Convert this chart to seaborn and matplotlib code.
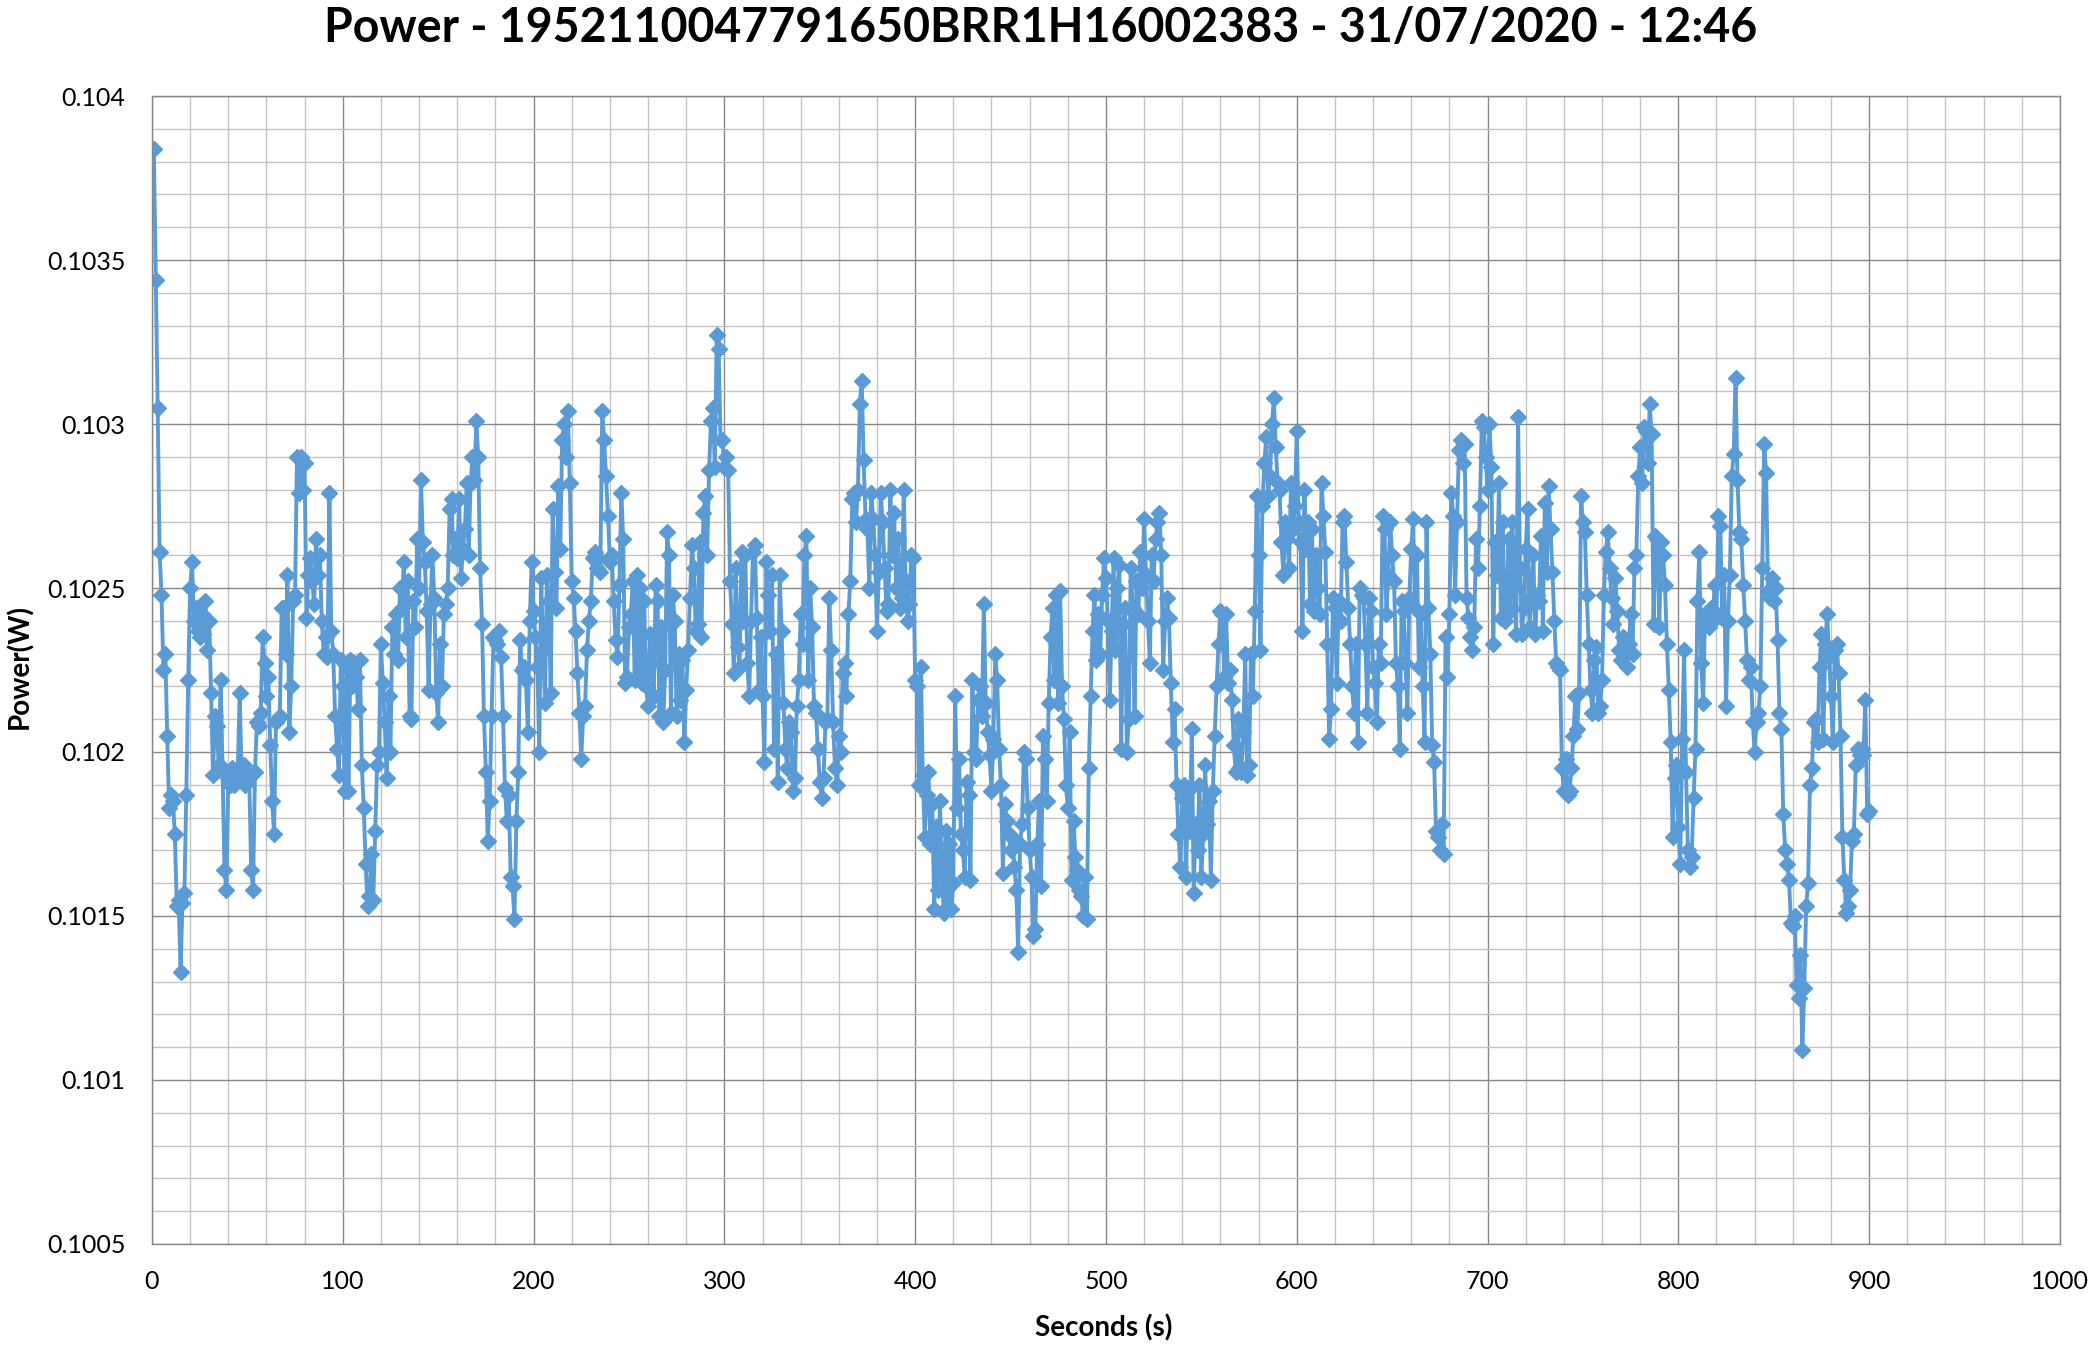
import numpy as np
import pandas as pd
import matplotlib
matplotlib.use('Agg')
import matplotlib.pyplot as plt
import seaborn as sns
from matplotlib.ticker import MultipleLocator, FuncFormatter

# chart text
title = "Power - 1952110047791650BRR1H16002383 - 31/07/2020 - 12:46"
x_label = "Seconds (s)"
y_label = "Power(W)"

# readings in micro-watts, one per second
power_uw = [
    103840, 103440, 103050, 102610, 102480, 102250, 102300, 102050, 101830, 101870,
    101850, 101750, 101530, 101550, 101330, 101540, 101570, 101870, 102220, 102500,
    102580, 102400, 102440, 102370, 102350, 102420, 102360, 102460, 102310, 102400,
    102180, 101930, 102110, 102080, 101960, 102220, 101950, 101640, 101580, 101920,
    101900, 101950, 101900, 101930, 101950, 102180, 101920, 101960, 101900, 101940,
    101920, 101640, 101580, 101940, 102090, 102080, 102120, 102350, 102270, 102170,
    102230, 102020, 101850, 101750, 102090, 102100, 102110, 102440, 102440, 102300,
    102540, 102060, 102200, 102460, 102480, 102900, 102790, 102900, 102800, 102880,
    102410, 102540, 102590, 102520, 102450, 102650, 102540, 102600, 102400, 102300,
    102350, 102290, 102790, 102370, 102300, 102110, 102010, 101930, 102280, 102200,
    101880, 102260, 101880, 102280, 102200, 102270, 102230, 102130, 102280, 101960,
    101830, 101660, 101530, 101560, 101690, 101550, 101760, 101960, 102000, 102330,
    102210, 102090, 101920, 102170, 102000, 102380, 102300, 102420, 102280, 102500,
    102440, 102580, 102350, 102520, 102110, 102100, 102460, 102380, 102650, 102500,
    102830, 102640, 102580, 102430, 102190, 102450, 102600, 102470, 102180, 102090,
    102330, 102200, 102420, 102450, 102500, 102740, 102770, 102600, 102650, 102590,
    102770, 102530, 102620, 102680, 102820, 102600, 102820, 102900, 102830, 103010,
    102900, 102560, 102390, 102110, 101940, 101730, 101850, 102110, 102350, 102340,
    102330, 102370, 102290, 102110, 101890, 101790, 101870, 101620, 101590, 101490,
    101790, 101940, 102340, 102250, 102260, 102220, 102060, 102400, 102580, 102430,
    102350, 102260, 102000, 102530, 102310, 102150, 102540, 102460, 102180, 102740,
    102550, 102440, 102810, 102620, 102950, 103000, 102900, 103040, 102820, 102520,
    102470, 102370, 102240, 102120, 101980, 102110, 102140, 102310, 102400, 102460,
    102590, 102610, 102560, 102590, 102550, 103040, 102950, 102840, 102720, 102580,
    102600, 102460, 102340, 102290, 102510, 102790, 102650, 102210, 102230, 102380,
    102420, 102520, 102220, 102540, 102230, 102500, 102210, 102460, 102200, 102140,
    102360, 102270, 102170, 102510, 102460, 102110, 102380, 102090, 102250, 102670,
    102600, 102120, 102480, 102400, 102110, 102300, 102160, 102280, 102030, 102190,
    102310, 102470, 102630, 102560, 102370, 102390, 102640, 102350, 102730, 102780,
    102600, 102860, 103010, 103050, 102870, 103270, 103230, 102950, 102950, 102870,
    102900, 102860, 102520, 102390, 102240, 102560, 102320, 102260, 102610, 102400,
    102600, 102270, 102170, 102400, 102610, 102630, 102410, 102190, 102350, 102170,
    101970, 102580, 102480, 102370, 102540, 102010, 102300, 101910, 102540, 102370,
    102150, 102010, 101950, 102090, 102060, 101880, 101920, 102140, 102220, 102420,
    102330, 102600, 102660, 102220, 102500, 102380, 102140, 102120, 102010, 101910,
    101860, 101920, 102090, 102100, 102470, 102310, 102090, 101950, 101900, 102050,
    102000, 102240, 102270, 102170, 102420, 102520, 102770, 102790, 102700, 102800,
    103060, 103130, 102890, 102710, 102680, 102500, 102790, 102710, 102600, 102370,
    102550, 102790, 102700, 102560, 102430, 102450, 102800, 102600, 102730, 102500,
    102650, 102440, 102470, 102800, 102520, 102400, 102450, 102600, 102590, 102220,
    102200, 101900, 102260, 101930, 101740, 101870, 101940, 101720, 101840, 101520,
    101770, 101580, 101850, 101630, 101510, 101760, 101530, 101720, 101520, 101600,
    102170, 101830, 101980, 101750, 101700, 101620, 101910, 101870, 101610, 102220,
    102000, 101980, 102160, 102200, 102110, 102450, 102150, 102060, 101990, 101880,
    102040, 102300, 102220, 102010, 101900, 101630, 101840, 101790, 101750, 101700,
    101740, 101650, 101580, 101390, 101720, 101780, 102000, 101980, 101830, 101700,
    101620, 101440, 101460, 101720, 101850, 101590, 102050, 101980, 101850, 102150,
    102350, 102440, 102220, 102480, 102150, 102490, 102200, 102100, 101900, 101830,
    102060, 101610, 101790, 101680, 101640, 101580, 101560, 101500, 101620, 101490,
    101950, 102170, 102370, 102480, 102280, 102420, 102300, 102480, 102590, 102530,
    102400, 102160, 102370, 102590, 102310, 102500, 102570, 102010, 102390, 102440,
    102000, 102100, 102560, 102440, 102110, 102520, 102420, 102610, 102500, 102710,
    102540, 102400, 102270, 102600, 102520, 102650, 102700, 102730, 102600, 102250,
    102400, 102470, 102410, 102210, 102030, 102130, 101900, 101750, 101650, 101860,
    101900, 101620, 101880, 101760, 102070, 101570, 101780, 101700, 101900, 101620,
    101750, 101960, 101780, 101850, 101610, 101880, 102050, 102200, 102330, 102430,
    102420, 102230, 102420, 102210, 102250, 102160, 102020, 101940, 102100, 101950,
    101940, 102060, 102300, 101930, 101960, 102300, 102170, 102430, 102780, 102600,
    102310, 102750, 102880, 102960, 102780, 102840, 103000, 103080, 102930, 102820,
    102800, 102640, 102540, 102700, 102650, 102560, 102820, 102680, 102750, 102980,
    102700, 102640, 102370, 102800, 102620, 102700, 102450, 102680, 102430, 102600,
    102500, 102420, 102820, 102720, 102610, 102330, 102040, 102130, 102470, 102440,
    102210, 102460, 102400, 102700, 102720, 102580, 102440, 102330, 102200, 102120,
    102330, 102030, 102500, 102480, 102470, 102330, 102120, 102470, 102430, 102260,
    102210, 102090, 102330, 102270, 102720, 102680, 102420, 102540, 102700, 102600,
    102520, 102270, 102200, 102010, 102460, 102430, 102270, 102120, 102470, 102620,
    102710, 102440, 102600, 102260, 102420, 102200, 102030, 102700, 102440, 102300,
    102020, 101970, 101760, 101740, 101700, 101780, 101690, 102350, 102230, 102420,
    102790, 102720, 102480, 102700, 102920, 102950, 102880, 102940, 102470, 102410,
    102350, 102310, 102380, 102650, 102560, 102750, 103010, 102990, 102900, 102800,
    103000, 102870, 102330, 102640, 102540, 102820, 102410, 102700, 102400, 102440,
    102650, 102430, 102700, 102500, 102360, 103020, 102560, 102360, 102440, 102620,
    102740, 102380, 102470, 102600, 102360, 102480, 102460, 102660, 102370, 102760,
    102550, 102810, 102680, 102550, 102400, 102270, 102260, 102250, 101950, 101880,
    101980, 101870, 101880, 101950, 102050, 102170, 102070, 102180, 102780, 102700,
    102670, 102480, 102330, 102190, 102120, 102280, 102320, 102120, 102140, 102220,
    102480, 102610, 102670, 102560, 102470, 102390, 102530, 102430, 102310, 102280,
    102350, 102300, 102260, 102330, 102420, 102300, 102560, 102600, 102840, 102930,
    102820, 102990, 102980, 102880, 103060, 102970, 102390, 102660, 102650, 102380,
    102640, 102600, 102510, 102330, 102190, 102030, 101740, 101920, 101960, 101770,
    101660, 102040, 102310, 101940, 101700, 101650, 101680, 101860, 102010, 102460,
    102610, 102270, 102150, 102420, 102400, 102380, 102440, 102400, 102510, 102420,
    102720, 102690, 102410, 102540, 102140, 102400, 102540, 102840, 102910, 103140,
    102830, 102670, 102650, 102510, 102400, 102280, 102220, 102260, 102090, 102000,
    102090, 102120, 102200, 102560, 102940, 102850, 102490, 102470, 102530, 102460,
    102500, 102340, 102120, 102070, 101810, 101700, 101660, 101610, 101480, 101470,
    101500, 101290, 101250, 101380, 101090, 101280, 101530, 101600, 101900, 101950,
    102090, 102100, 102030, 102260, 102360, 102040, 102330, 102420, 102290, 102170,
    102030, 102310, 102330, 102240, 102050, 101740, 101610, 101510, 101530, 101580,
    101730, 101750, 101960, 102010, 101990, 102010, 101990, 102160, 101810, 101820,
]

# one sample per second, starting at 1 s
seconds = np.arange(1, len(power_uw) + 1)

df = pd.DataFrame({x_label: seconds, y_label: np.array(power_uw) / 1e6})

sns.set_theme(style="white")
plt.rcParams['font.family'] = ['Lato', 'DejaVu Sans']

line_blue = '#5B9BD5'
major_grey = '#878787'
minor_grey = '#c3c3c3'

fig = plt.figure(figsize=(20.93, 13.47), dpi=100)
ax = fig.add_axes([0.0726, 0.0765, 0.9116, 0.8522])

sns.lineplot(data=df, x=x_label, y=y_label, ax=ax, color=line_blue,
             linewidth=2.8, marker='D', markersize=8,
             markeredgecolor=line_blue, markeredgewidth=1,
             estimator=None, sort=False)

ax.set_xlim(0, 1000)
ax.set_ylim(0.1005, 0.104)
ax.xaxis.set_major_locator(MultipleLocator(100))
ax.xaxis.set_minor_locator(MultipleLocator(20))
ax.yaxis.set_major_locator(MultipleLocator(0.0005))
ax.yaxis.set_minor_locator(MultipleLocator(0.0001))
ax.yaxis.set_major_formatter(FuncFormatter(lambda v, _: f'{v:.4f}'.rstrip('0')))
ax.xaxis.set_major_formatter(FuncFormatter(lambda v, _: f'{v:.0f}'))

ax.grid(which='major', color=major_grey, linewidth=1)
ax.grid(which='minor', color=minor_grey, linewidth=1)
ax.set_axisbelow(True)

for side in ['top', 'right', 'left', 'bottom']:
    ax.spines[side].set_color(major_grey)
    ax.spines[side].set_linewidth(1)

ax.tick_params(axis='both', which='major', direction='out', length=7,
               width=1, color=major_grey, labelsize=18, labelcolor='black')
ax.tick_params(axis='x', which='major', pad=12)
ax.tick_params(axis='y', which='major', pad=12)
ax.tick_params(which='minor', length=0)

ax.set_xlabel(x_label, fontsize=20, fontweight='bold', color='black')
ax.set_ylabel(y_label, fontsize=20, fontweight='bold', color='black')
ax.xaxis.label.set_va('center')
ax.yaxis.label.set_va('center')
ax.xaxis.set_label_coords(0.499, -0.0732)
ax.yaxis.set_label_coords(-0.0692, 0.503)

fig.text(0.497, 0.979, title, ha='center', va='center',
         fontsize=33.5, fontweight='bold', color='black')

fig.savefig('out.png', dpi=100)
